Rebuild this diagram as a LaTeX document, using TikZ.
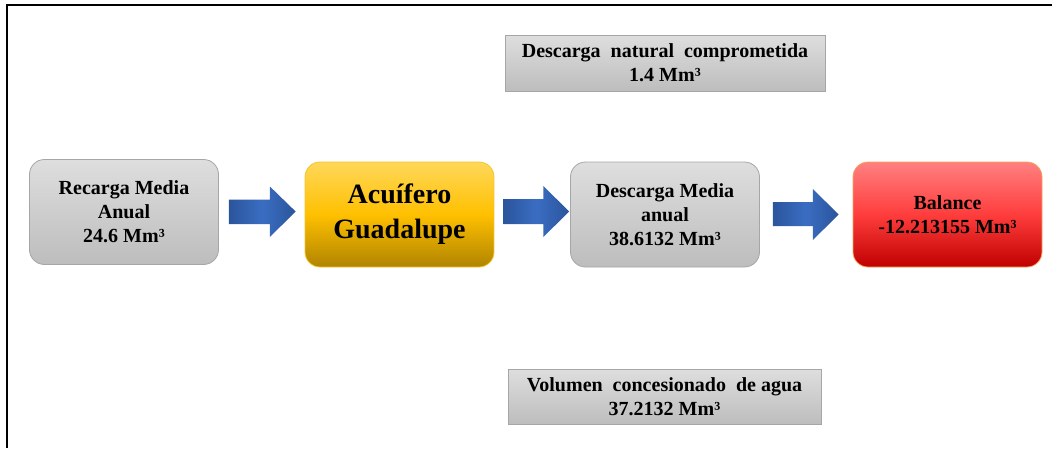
\documentclass[tikz,border=0pt]{standalone}
\usepackage{fontspec}
\setmainfont{Liberation Serif}
\usetikzlibrary{calc}
\definecolor{graytop}{HTML}{DEDEDE}
\definecolor{graybot}{HTML}{BDBDBD}
\definecolor{grayline}{HTML}{A6A6A6}
\definecolor{goldtop}{HTML}{FFD85A}
\definecolor{goldmid}{HTML}{FFC000}
\definecolor{goldbot}{HTML}{B08400}
\definecolor{goldline}{HTML}{F5C431}
\definecolor{redtop}{HTML}{FF8080}
\definecolor{redmid}{HTML}{FF3D3D}
\definecolor{redbot}{HTML}{C00000}
\definecolor{redline}{HTML}{F4A460}
\definecolor{arrowdark}{HTML}{2B559C}
\definecolor{arrowlight}{HTML}{3A6DC2}
\begin{document}
\begin{tikzpicture}[x=1pt,y=-1pt,
  basebox/.style={inner sep=0pt, align=center, line width=0.8pt,
    font=\bfseries\fontsize{20}{24}\selectfont},
  roundbox/.style={basebox, rounded corners=15pt, minimum width=189pt, minimum height=105pt},
  graybox/.style={draw=grayline, top color=graytop, bottom color=graybot},
  goldbox/.style={draw=goldline, top color=goldtop, bottom color=goldbot, middle color=goldmid,
    font=\bfseries\fontsize{28}{35}\selectfont},
  redbox/.style={draw=redline, top color=redtop, bottom color=redbot, middle color=redmid},
  flatbox/.style={basebox, graybox, rounded corners=0pt},
  blockarrow/.style={left color=arrowdark, right color=arrowdark, middle color=arrowlight, draw=none},
  frame/.style={line width=2pt, black}
]
\useasboundingbox (0,0) rectangle (1052,448);
\draw[frame] (6.5,448) -- (6.5,5) -- (1052,5);

\node[roundbox, graybox] (rec) at (124,212) {Recarga Media\\Anual\\24.6 Mm³};
\node[roundbox, goldbox] (acu) at (399.5,214.5) {Acuífero\\Guadalupe};
\node[roundbox, graybox] (des) at (665,214.5) {Descarga Media\\anual\\38.6132 Mm³};
\node[roundbox, redbox] (bal) at (947.5,214.5) {Balance\\-12.213155 Mm³};
\node[flatbox, minimum width=320pt, minimum height=56pt] (nat) at (665,63) {Descarga\ \ natural\ \ comprometida\\1.4 Mm³};
\node[flatbox, minimum width=313pt, minimum height=55pt] (vol) at (664.5,396.5) {Volumen\ \ concesionado\ \ de agua\\37.2132 Mm³};

% block arrows between the main boxes
\path[blockarrow] ($(rec.east)+(10,-12.5)$) -- ++(41,0) -- ++(0,-13) -- ($(acu.west)+(-9,-3)$)
  -- ($(rec.east)+(51,25)$) -- ++(0,-13) -- ++(-41,0) -- cycle;
\path[blockarrow] ($(acu.east)+(9,-15.5)$) -- ++(40,0) -- ++(0,-13) -- ($(des.west)+(-1,-3)$)
  -- ($(acu.east)+(49,22.5)$) -- ++(0,-13) -- ++(-40,0) -- cycle;
\path[blockarrow] ($(des.east)+(13,-12.5)$) -- ++(40,0) -- ++(0,-13) -- ($(bal.west)+(-14,0)$)
  -- ($(des.east)+(53,25.5)$) -- ++(0,-14) -- ++(-40,0) -- cycle;
\end{tikzpicture}
\end{document}
